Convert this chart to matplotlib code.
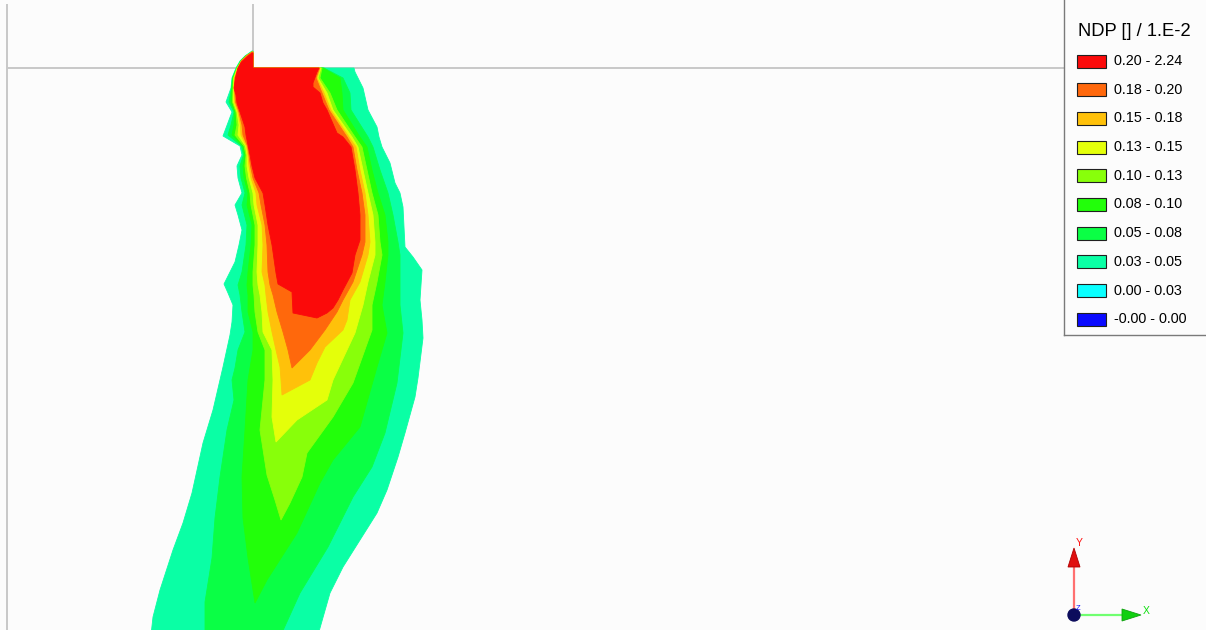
import matplotlib
matplotlib.use("Agg")
import matplotlib.pyplot as plt
from matplotlib.patches import Polygon, Rectangle, Circle

plt.rcParams['font.family'] = ['Liberation Sans', 'DejaVu Sans']

# ---------------------------------------------------------------------------
# NDP classes (values in units of 1.E-2), listed from highest to lowest
class_labels = ["0.20 - 2.24", "0.18 - 0.20", "0.15 - 0.18", "0.13 - 0.15",
                "0.10 - 0.13", "0.08 - 0.10", "0.05 - 0.08", "0.03 - 0.05",
                "0.00 - 0.03", "-0.00 - 0.00"]
class_colors = ["#FB0A0A", "#FF680C", "#FFC10A", "#E4FF0A", "#88FF0A",
                "#22FF0A", "#0AFF45", "#0AFFA5", "#0AFFFF", "#0A0AFF"]
legend_title = "NDP [] / 1.E-2"

# Iso-lines of NDP, model coordinates (y downward).  Each level is stored as
# its left and right boundary, rows of (y, x), from top to bottom.
iso_003_left = [(51, 252), (56, 245), (61, 240), (68, 236), (78, 232), (88, 231),
                (102, 226), (112, 232), (120, 229), (136, 223), (146, 240), (155, 242),
                (166, 237), (178, 238), (193, 242), (205, 235), (215, 238), (230, 242),
                (245, 239), (262, 235), (272, 230), (284, 224), (293, 228), (305, 233),
                (322, 232), (335, 230), (367, 223), (410, 213), (443, 203), (493, 192),
                (523, 183), (550, 173), (590, 160), (617, 153), (635, 151)]
iso_003_right = [(51, 253), (68, 253), (68, 354), (72, 355), (88, 363), (110, 368),
                 (127, 377), (137, 379), (147, 382), (163, 390), (183, 395), (193, 400),
                 (207, 403), (247, 405), (257, 413), (270, 422), (300, 420), (320, 422),
                 (338, 423), (378, 418), (397, 415), (433, 405), (457, 398), (490, 387),
                 (513, 377), (540, 360), (567, 343), (593, 330), (635, 318)]

iso_005_left = [(52, 252), (56, 245.5), (61, 240.5), (68, 236.5), (78, 232.5), (88, 231.5),
                (102, 229), (112, 234), (125, 231), (135, 228), (146, 241.5), (155, 243.5),
                (166, 240), (178, 241), (193, 245), (205, 242), (225, 247), (245, 246),
                (272, 242), (285, 238), (295, 240), (312, 242), (332, 245), (350, 238),
                (368, 235), (380, 232), (400, 234), (430, 227), (477, 220), (518, 215),
                (558, 212), (602, 205), (635, 205)]
iso_005_right = [(52, 253), (68, 253), (68, 324), (78, 343), (93, 350), (110, 351),
                 (137, 368), (147, 373), (170, 380), (193, 388), (215, 393), (242, 398),
                 (255, 400), (282, 400), (305, 400), (333, 403), (383, 397), (433, 385),
                 (467, 372), (497, 353), (547, 328), (593, 300), (635, 281)]

iso_008_left = [(52, 252), (56, 246), (61, 241), (68, 237), (78, 233), (88, 232),
                (102, 231), (112, 235), (125, 234), (135, 232), (146, 243), (155, 245),
                (166, 243), (178, 244), (193, 248), (205, 247), (225, 252), (245, 251),
                (272, 248), (285, 247), (295, 248), (312, 248), (332, 253), (350, 253),
                (380, 248), (430, 245), (477, 242), (518, 243), (558, 248), (603, 255)]
iso_008_right = [(52, 253), (68, 253), (68, 323), (78, 340), (93, 342), (110, 343),
                 (137, 360), (147, 367), (170, 372), (193, 378), (215, 385), (242, 388),
                 (255, 388), (282, 385), (305, 382), (333, 387), (367, 377), (427, 360),
                 (460, 333), (483, 320), (533, 297), (580, 267), (603, 255)]

iso_010_left = [(52, 252), (56, 246), (61, 241), (68, 237), (78, 233.5), (88, 233),
                (102, 232.5), (112, 236), (125, 237), (135, 235), (146, 244), (155, 246),
                (166, 245), (178, 246.5), (193, 250), (205, 251), (225, 255), (245, 255),
                (272, 253), (285, 253), (295, 254), (312, 255), (332, 258), (350, 265),
                (380, 265), (430, 260), (475, 267), (500, 275), (520, 281)]
iso_010_right = [(52, 253), (68, 253), (68, 322), (78, 320), (93, 330), (110, 337),
                 (137, 355), (147, 362), (170, 367), (193, 372), (215, 378), (242, 380),
                 (255, 382), (282, 377), (305, 372), (330, 372), (383, 353), (417, 333),
                 (453, 307), (477, 302), (503, 290), (520, 281)]

iso_013_left = [(52, 252), (56, 246.5), (61, 241.5), (68, 237.5), (78, 234), (88, 233.5),
                (102, 233.5), (112, 237), (125, 239), (135, 238), (146, 245.5), (155, 247),
                (166, 247), (178, 249), (193, 253), (205, 254), (225, 258), (245, 258),
                (272, 257), (285, 258), (295, 260), (312, 262), (332, 263), (350, 272),
                (380, 273), (417, 272), (442, 276)]
iso_013_right = [(52, 253), (68, 253), (68, 321), (78, 318), (93, 327), (110, 333),
                 (137, 352), (147, 358), (170, 363), (193, 368), (215, 373), (242, 375),
                 (255, 375), (282, 368), (305, 363), (333, 355), (380, 333), (400, 327),
                 (420, 297), (442, 276)]

iso_015_left = [(52, 252), (56, 246.5), (61, 241.5), (68, 238), (78, 234.5), (88, 234),
                (102, 234.5), (112, 238), (125, 240.5), (135, 241), (146, 246.5), (155, 248),
                (166, 249), (178, 251), (193, 256), (205, 257), (225, 262), (245, 263),
                (272, 262), (285, 265), (295, 266), (312, 268), (332, 272), (350, 276),
                (367, 280), (380, 281), (395, 282)]
iso_015_right = [(52, 253), (68, 253), (68, 320), (78, 317), (93, 324), (110, 331),
                 (137, 349), (147, 356), (170, 360), (193, 365), (215, 368), (242, 370),
                 (255, 368), (282, 360), (300, 350), (320, 347), (330, 343), (347, 325),
                 (363, 317), (380, 310), (395, 282)]

iso_018_left = [(52, 252), (56, 246.5), (61, 241.5), (68, 238), (78, 235), (88, 234.5),
                (102, 235.5), (112, 239), (125, 242), (135, 243), (146, 247.5), (155, 249),
                (166, 250.5), (178, 253), (193, 259), (205, 261), (225, 265), (245, 267),
                (272, 268), (285, 270), (295, 273), (312, 277), (332, 283), (350, 288),
                (368, 292)]
iso_018_right = [(52, 253), (68, 253), (68, 319.5), (78, 316), (93, 322), (110, 329),
                 (137, 347), (147, 353), (170, 357), (193, 362), (215, 365), (242, 365),
                 (255, 362), (282, 353), (300, 343), (312, 337), (330, 325), (350, 310),
                 (368, 292)]

iso_020_left = [(53, 252), (57, 247), (62, 241.5), (68, 238), (78, 235.5), (88, 234),
                (95, 236), (103, 237), (112, 240), (127, 245), (135, 246), (155, 250),
                (166, 252), (178, 255), (193, 263), (205, 265), (225, 268), (245, 272),
                (273, 276), (284, 278), (292, 292), (313, 293), (318, 317)]
iso_020_right = [(53, 253), (68, 253), (68, 319), (72, 317), (83, 313), (87, 313),
                 (93, 320), (103, 323), (110, 327), (133, 337), (137, 343), (147, 351),
                 (170, 355), (193, 358), (215, 360), (240, 360), (255, 355), (273, 352),
                 (290, 343), (300, 338), (308, 333), (313, 327), (318, 317)]

iso_levels = [0.03, 0.05, 0.08, 0.10, 0.13, 0.15, 0.18, 0.20]
iso_left = [iso_003_left, iso_005_left, iso_008_left, iso_010_left,
            iso_013_left, iso_015_left, iso_018_left, iso_020_left]
iso_right = [iso_003_right, iso_005_right, iso_008_right, iso_010_right,
             iso_013_right, iso_015_right, iso_018_right, iso_020_right]

# ---------------------------------------------------------------------------
W, H = 1206, 630
fig = plt.figure(figsize=(W / 100, H / 100), dpi=100, facecolor="#FCFCFC")
ax = fig.add_axes([0, 0, 1, 1])
ax.set_xlim(0, W)
ax.set_ylim(H, 0)
ax.set_facecolor("#FCFCFC")
ax.axis("off")

# model geometry lines
geo_kw = dict(color="#C8C8C8", lw=1.4, zorder=1, solid_capstyle="butt")
ax.plot([7, 7], [4, H], **geo_kw)
ax.plot([7, 1064], [68, 68], **geo_kw)
ax.plot([253, 253], [4, 68], **geo_kw)

# filled iso-bands: each region NDP >= level painted over the previous one
band_colors = class_colors[:8][::-1]
for level, left, right, color in zip(iso_levels, iso_left, iso_right, band_colors):
    outline = [(x, y) for y, x in left] + [(x, y) for y, x in reversed(right)]
    ax.add_patch(Polygon(outline, closed=True, facecolor=color, edgecolor=color,
                         lw=0.6, zorder=2, joinstyle="miter"))

# legend panel
ax.plot([1064, 1064], [0, 335], color="#7A7A7A", lw=1.0, zorder=5)
ax.plot([1064, W], [335, 335], color="#7A7A7A", lw=1.0, zorder=5)
ax.text(1134.5, 31, legend_title, fontsize=13.2, ha="center", va="center",
        color="black", zorder=6)
for i, (lab, col) in enumerate(zip(class_labels, class_colors)):
    yc = 61 + 28.7 * i
    ax.add_patch(Rectangle((1077, yc - 6.5), 29, 13, facecolor=col,
                           edgecolor="#202020", lw=0.8, zorder=6))
    ax.text(1114, yc, lab, fontsize=10.4, ha="left", va="center",
            color="black", zorder=6)

# coordinate triad
ox, oy = 1074, 615
ax.plot([ox, ox], [oy, 566], color="#FF7070", lw=1.6, zorder=7)
ax.add_patch(Polygon([(ox - 6, 567), (ox + 6, 567), (ox, 548)], closed=True,
                     facecolor="#E01010", edgecolor="#B00000", lw=0.6, zorder=8))
ax.plot([ox, 1122], [oy, oy], color="#70FF70", lw=1.6, zorder=7)
ax.add_patch(Polygon([(1122, oy - 6), (1122, oy + 6), (1141, oy)], closed=True,
                     facecolor="#10D010", edgecolor="#10A010", lw=0.6, zorder=8))
ax.add_patch(Circle((ox, oy), 6, facecolor="#0C0C5C", edgecolor="#0C0C5C", zorder=9))
ax.text(1079, 543, "Y", color="#FF1010", fontsize=7.5, ha="center", va="center", zorder=9)
ax.text(1146, 611, "X", color="#10E010", fontsize=7.5, ha="center", va="center", zorder=9)
ax.text(1078, 608, "Z", color="#1010FF", fontsize=5.5, ha="center", va="center", zorder=10)

fig.savefig("out.png", dpi=100, facecolor=fig.get_facecolor())
